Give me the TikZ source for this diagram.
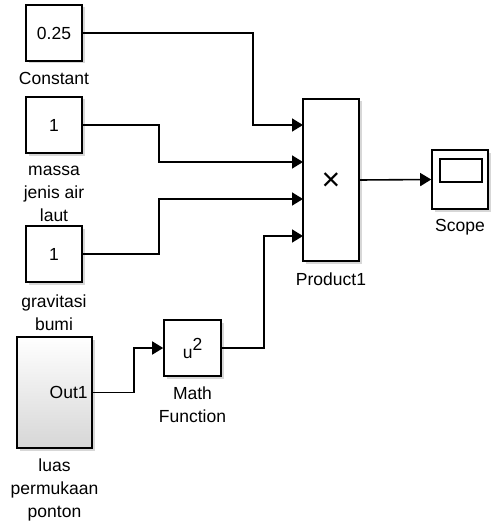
\documentclass[tikz,border=0pt]{standalone}
\usepackage{fontspec}
\setmainfont{Liberation Sans}
\usetikzlibrary{arrows.meta,shadows,calc}
\begin{document}
\begin{tikzpicture}[x=1pt,y=-1pt,
  blk/.style={draw, line width=1.6pt, fill=white, inner sep=0pt,
    font=\fontsize{17.5}{23}\selectfont,
    drop shadow={shadow xshift=2.5pt, shadow yshift=-2.5pt, fill=black!35, opacity=0.45}},
  lbl/.style={align=center, inner sep=0pt, font=\fontsize{17.5}{23}\selectfont},
  wire/.style={line width=1.6pt, -{Triangle[length=11pt,width=13pt]}},
  plainwire/.style={line width=1.6pt}]
\useasboundingbox (0,0) rectangle (490,524);

% blocks
\node[blk, minimum width=56pt, minimum height=56pt] (const) at (54,33) {0.25};
\node[lbl] (constl) at (54,78) {Constant};

\node[blk, minimum width=56pt, minimum height=56pt] (mass) at (54,125) {1};
\node[lbl] (massl) at (54,194) {massa\\jenis air\\laut};

\node[blk, minimum width=56pt, minimum height=56pt] (grav) at (54,254) {1};
\node[lbl] (gravl) at (54,313) {gravitasi\\bumi};

\node[blk, top color=white, bottom color=black!16, minimum width=75pt, minimum height=111pt] (luas) at (54.5,392.5) {};
\node[lbl, anchor=east] (out1) at ([xshift=-5pt]luas.east) {Out1};
\node[lbl] (luasl) at (54.5,490) {luas\\permukaan\\ponton};

\node[blk, minimum width=57pt, minimum height=56pt] (math) at (192.5,348) {u\raisebox{8pt}{2}};
\node[lbl] (mathl) at (192.5,405) {Math\\Function};

\node[blk, minimum width=56pt, minimum height=162pt] (prod) at (331,180) {};
\node[inner sep=0pt, font=\fontsize{32}{32}\selectfont] (times) at (331,182) {×};
\node[lbl] (prodl) at (331,279) {Product1};

\node[blk, minimum width=56pt, minimum height=59pt] (scope) at (460,179.5) {};
\node[draw, line width=1.4pt, minimum width=42pt, minimum height=23pt, inner sep=0pt] (screen) at (461,170.5) {};
\node[lbl] (scopel) at (460,227) {Scope};

% product input ports
\coordinate (in1) at (303,125);
\coordinate (in2) at (303,162);
\coordinate (in3) at (303,199);
\coordinate (in4) at (303,236);

% connectors
\draw[wire] (const.east) -| ([xshift=-50pt]in1) -- (in1);
\draw[wire] (mass.east) -| ([xshift=-144pt]in2) -- (in2);
\draw[wire] (grav.east) -| ([xshift=-144pt]in3) -- (in3);
\draw[wire] (math.east) -| ([xshift=-39pt]in4) -- (in4);
\draw[wire] (luas.east) -| ([xshift=-29pt]math.west) -- (math.west);
\draw[wire] (prod.east) -- (scope.west);
\end{tikzpicture}
\end{document}
